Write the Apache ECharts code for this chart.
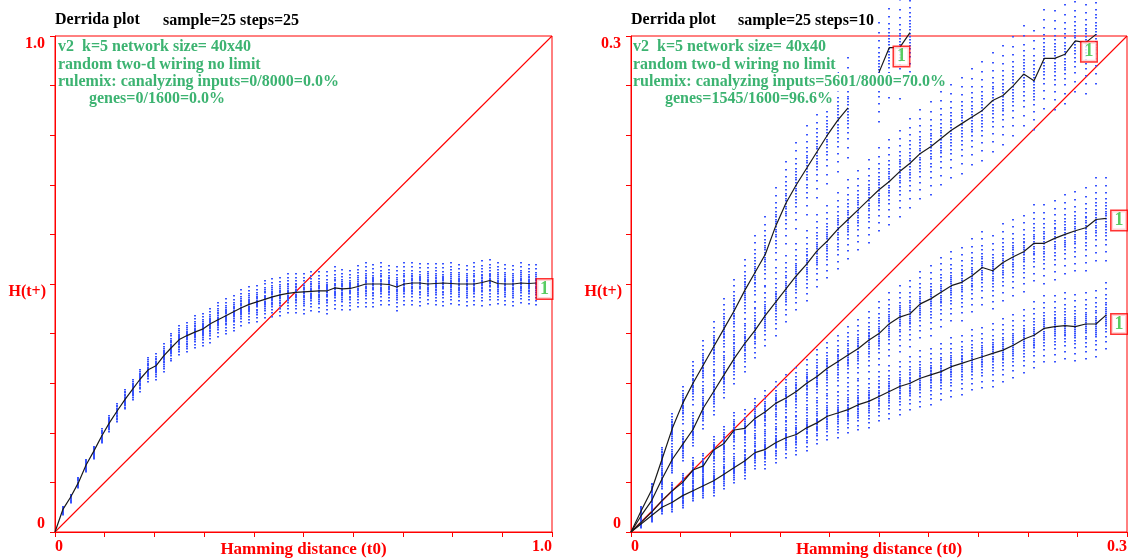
<!DOCTYPE html>
<html><head><meta charset="utf-8">
<script src="https://cdn.jsdelivr.net/npm/echarts@6/dist/echarts.min.js"></script>
<style>html,body{margin:0;padding:0;background:#fff}#c{width:1128px;height:559px}</style>
</head><body><div id="c"></div>
<script>
// ---------- data ----------
const leftStep = 0.015625;   // hamming distance step, left plot
const rightStep = 0.00625;   // hamming distance step, right plot

const leftH = [0, 0.045, 0.070, 0.099, 0.135, 0.163, 0.193, 0.220, 0.244, 0.267,
  0.288, 0.309, 0.327, 0.335, 0.355, 0.372, 0.388, 0.396, 0.403, 0.409,
  0.420, 0.428, 0.436, 0.444, 0.452, 0.459, 0.464, 0.469, 0.474, 0.478,
  0.481, 0.483, 0.484, 0.485, 0.486, 0.486, 0.492, 0.490, 0.491, 0.495,
  0.500, 0.500, 0.500, 0.499, 0.494, 0.500, 0.502, 0.502, 0.500, 0.501,
  0.502, 0.501, 0.500, 0.500, 0.500, 0.503, 0.507, 0.501, 0.500, 0.500,
  0.502, 0.501, 0.502];
const leftSpread = [0, 0.008, 0.008, 0.010, 0.012, 0.012, 0.014, 0.016, 0.018, 0.020,
  0.020, 0.022, 0.024, 0.026, 0.028, 0.028, 0.030, 0.030, 0.032, 0.032,
  0.034, 0.034, 0.035, 0.035, 0.036, 0.036, 0.036, 0.038, 0.038, 0.038,
  0.040, 0.040, 0.040, 0.040, 0.040, 0.042, 0.042, 0.040, 0.040, 0.042,
  0.045, 0.042, 0.042, 0.040, 0.045, 0.042, 0.042, 0.042, 0.040, 0.042,
  0.042, 0.042, 0.040, 0.040, 0.042, 0.045, 0.045, 0.042, 0.040, 0.040,
  0.040, 0.040, 0.040];

const rightA = [0, 0.013, 0.0254, 0.044, 0.0627, 0.0778, 0.090, 0.101, 0.112, 0.123,
  0.134, 0.146, 0.157, 0.168, 0.185, 0.199, 0.210, 0.220, 0.230, 0.240,
  0.249, 0.2565, '-', '-', 0.278, 0.293, 0.293, 0.302];
const rightASpread = [0, 0.003, 0.005, 0.007, 0.009, 0.011, 0.013, 0.015, 0.016, 0.018,
  0.019, 0.020, 0.022, 0.023, 0.024, 0.025, 0.026, 0.027, 0.028, 0.029,
  0.030, 0.030, 0, 0, 0.030, 0.030, 0.030, 0.030];

const rightB = [0, 0.010, 0.019, 0.032, 0.044, 0.053, 0.062, 0.075, 0.085, 0.095,
  0.105, 0.114, 0.122, 0.131, 0.139, 0.147, 0.155, 0.162, 0.170, 0.176,
  0.183, 0.189, 0.195, 0.201, 0.207, 0.212, 0.218, 0.223, 0.229, 0.233,
  0.238, 0.243, 0.247, 0.251, 0.255, 0.261, 0.264, 0.270, 0.277, 0.273,
  0.2865, 0.2865, 0.289, 0.297, 0.296, 0.301];
const rightBSpread = [0, 0.003, 0.004, 0.006, 0.008, 0.009, 0.010, 0.012, 0.013, 0.014,
  0.015, 0.016, 0.017, 0.018, 0.019, 0.020, 0.020, 0.021, 0.022, 0.022,
  0.023, 0.024, 0.024, 0.025, 0.025, 0.026, 0.026, 0.027, 0.027, 0.028,
  0.028, 0.028, 0.029, 0.029, 0.030, 0.030, 0.030, 0.030, 0.030, 0.030,
  0.030, 0.030, 0.030, 0.030, 0.030, 0.030];

const rightC = [0, 0.006, 0.012, 0.019, 0.025, 0.030, 0.0375, 0.040, 0.0496, 0.0536,
  0.0617, 0.0627, 0.0687, 0.0727, 0.0778, 0.081, 0.085, 0.090, 0.094, 0.099,
  0.103, 0.107, 0.111, 0.116, 0.120, 0.126, 0.130, 0.132, 0.138, 0.141,
  0.145, 0.149, 0.151, 0.155, 0.160, 0.158, 0.163, 0.1665, 0.1695, 0.1746,
  0.1746, 0.1776, 0.180, 0.1822, 0.184, 0.189, 0.1897];
const rightCSpread = [0, 0.002, 0.003, 0.004, 0.005, 0.006, 0.007, 0.008, 0.009, 0.010,
  0.011, 0.012, 0.012, 0.013, 0.014, 0.014, 0.015, 0.015, 0.016, 0.016,
  0.017, 0.017, 0.018, 0.018, 0.019, 0.019, 0.020, 0.020, 0.020, 0.021,
  0.021, 0.021, 0.022, 0.022, 0.022, 0.022, 0.023, 0.023, 0.023, 0.023,
  0.024, 0.024, 0.024, 0.024, 0.025, 0.025, 0.025];

const rightD = [0, 0.005, 0.010, 0.015, 0.018, 0.022, 0.025, 0.028, 0.031, 0.035,
  0.039, 0.043, 0.048, 0.050, 0.054, 0.057, 0.059, 0.063, 0.066, 0.070,
  0.072, 0.074, 0.077, 0.079, 0.082, 0.085, 0.088, 0.090, 0.093, 0.095,
  0.097, 0.100, 0.102, 0.104, 0.106, 0.108, 0.110, 0.113, 0.1166, 0.119,
  0.1232, 0.1242, 0.1248, 0.1242, 0.1258, 0.1258, 0.1313];
const rightDSpread = [0, 0.002, 0.003, 0.004, 0.005, 0.006, 0.006, 0.007, 0.008, 0.009,
  0.009, 0.010, 0.010, 0.011, 0.011, 0.012, 0.012, 0.013, 0.013, 0.014,
  0.014, 0.014, 0.015, 0.015, 0.015, 0.016, 0.016, 0.016, 0.017, 0.017,
  0.017, 0.018, 0.018, 0.018, 0.018, 0.019, 0.019, 0.019, 0.019, 0.020,
  0.020, 0.020, 0.020, 0.020, 0.020, 0.020, 0.020];

const leftDiagonal = [[0, 0], [1, 1]];
const rightDiagonal = [[0, 0], [0.3, 0.3]];
const leftEndLabels = [[0.985, 0.490]];
const rightEndLabels = [[0.1636, 0.2876], [0.277, 0.2905], [0.2952, 0.1884], [0.2952, 0.1258]];

const leftTickLabels = { min: '0', max: '1.0' };
const rightTickLabels = { min: '0', max: '0.3' };
const axisNameX = 'Hamming distance (t0)';
const axisNameY = 'H(t+)';
const leftTitle = ['Derrida plot', 'sample=25 steps=25'];
const rightTitle = ['Derrida plot', 'sample=25 steps=10'];
const leftInfo = ['v2  k=5 network size= 40x40', 'random two-d wiring no limit',
  'rulemix: canalyzing inputs=0/8000=0.0%', 'genes=0/1600=0.0%'];
const rightInfo = ['v2  k=5 network size= 40x40', 'random two-d wiring no limit',
  'rulemix: canalyzing inputs=5601/8000=70.0%', 'genes=1545/1600=96.6%'];

// ---------- chart ----------
const RED = '#ff0000';
const SERIF = '"Liberation Serif", "DejaVu Serif", serif';
const chart = echarts.init(document.getElementById('c'), null, { renderer: 'canvas' });

// relative positions of the sample dots inside one column (drawing pattern only)
const dotPattern = [-1, -0.8, -0.63, -0.5, -0.4, -0.32, -0.25, -0.19, -0.13, -0.07, 0,
  0.07, 0.13, 0.19, 0.25, 0.32, 0.4, 0.5, 0.63, 0.8, 1];

function pts(ys, step) { return ys.map((y, i) => [i * step, y]); }
function dots(ys, sp, step) {
  const out = [];
  ys.forEach((y, i) => { if (y !== '-' && sp[i] > 0) out.push([i * step, y, sp[i], i]); });
  return out;
}
function dotsRender(params, api) {
  const x = api.value(0), y = api.value(1), s = api.value(2), idx = api.value(3);
  const c = api.coord([x, y]);
  const top = api.coord([x, y + s]);
  const h = c[1] - top[1];
  const px = Math.round(c[0]) - 1;
  const shift = (idx % 3) - 1;
  const children = dotPattern.map(t => ({
    type: 'rect', shape: { x: px, y: Math.round(c[1] - t * h) + (Math.abs(t) > 0.3 ? shift : 0), width: 2, height: 1.6 },
    style: { fill: '#3a55ff' }
  }));
  return { type: 'group', children: children };
}
function fmt(labels, max) {
  return v => (Math.abs(v) < 1e-9 ? labels.min : (Math.abs(v - max) < 1e-9 ? labels.max : ''));
}
const labelFont = { color: RED, fontFamily: SERIF, fontWeight: 'bold', fontSize: 16 };

function xAx(gi, max, interval, labels) {
  return { gridIndex: gi, type: 'value', min: 0, max: max, interval: interval,
    axisLine: { show: true, lineStyle: { color: RED, width: 1 } },
    axisTick: { show: true, length: 5, lineStyle: { color: RED } },
    splitLine: { show: false },
    axisLabel: Object.assign({ formatter: fmt(labels, max), margin: 7,
      alignMinLabel: 'left', alignMaxLabel: 'right', showMinLabel: true, showMaxLabel: true }, labelFont),
    name: axisNameX, nameLocation: 'middle', nameGap: 9, nameMoveOverlap: false,
    nameTextStyle: Object.assign({}, labelFont, { fontSize: 17, verticalAlign: 'top' }) };
}
function yAx(gi, max, interval, labels) {
  return { gridIndex: gi, type: 'value', min: 0, max: max, interval: interval,
    axisLine: { show: true, lineStyle: { color: RED, width: 1 } },
    axisTick: { show: true, length: 5, lineStyle: { color: RED } },
    splitLine: { show: false },
    axisLabel: Object.assign({ formatter: fmt(labels, max), margin: 10,
      verticalAlignMinLabel: 'bottom', verticalAlignMaxLabel: 'top', showMinLabel: true, showMaxLabel: true }, labelFont),
    name: axisNameY, nameLocation: 'middle', nameGap: 9, nameRotate: 0, nameMoveOverlap: false,
    nameTextStyle: Object.assign({ verticalAlign: 'top', align: 'right' }, labelFont) };
}
function curve(ys, step, xi, clip) {
  return { type: 'line', xAxisIndex: xi, yAxisIndex: xi, data: pts(ys, step), showSymbol: false,
    symbol: 'none', clip: clip, z: 4, color: '#1a1a1a', lineStyle: { color: '#1a1a1a', width: 1.2 },
    emphasis: { disabled: true }, animation: false };
}
function diag(data, xi) {
  return { type: 'line', xAxisIndex: xi, yAxisIndex: xi, data: data, symbol: 'none', showSymbol: false, z: 2,
    color: RED, itemStyle: { color: RED }, lineStyle: { color: RED, width: 1.1 },
    emphasis: { disabled: true }, animation: false };
}
function dotSeries(ys, sp, step, xi) {
  return { type: 'custom', xAxisIndex: xi, yAxisIndex: xi, data: dots(ys, sp, step),
    renderItem: dotsRender, z: 3, clip: false, animation: false, silent: true };
}
function endLabels(arr, xi) {
  return { type: 'scatter', xAxisIndex: xi, yAxisIndex: xi, data: arr, symbolSize: 1, z: 6,
    itemStyle: { color: 'rgba(0,0,0,0)' }, clip: false, animation: false, emphasis: { disabled: true },
    label: { show: true, position: 'inside', formatter: '1', color: '#2fbf3a',
      fontFamily: SERIF, fontWeight: 'bold', fontSize: 18, backgroundColor: '#fff',
      borderColor: RED, borderWidth: 1.5, padding: [1, 3, 0, 3] } };
}
function textEl(x, y, t, color, size, bg) {
  const st = { text: t, fill: color, font: 'bold ' + size + 'px ' + SERIF, textVerticalAlign: 'middle' };
  if (bg) { st.backgroundColor = '#fff'; st.padding = [1, 2, 1, 0]; }
  return { type: 'text', x: x, y: y, z: 20, style: st };
}
const GREEN = '#3cb371';
const graphics = [
  textEl(55, 20, leftTitle[0], '#000', 16), textEl(163, 21, leftTitle[1], '#000', 16),
  textEl(631, 20, rightTitle[0], '#000', 16), textEl(738, 21, rightTitle[1], '#000', 16),
  textEl(58, 47, leftInfo[0], GREEN, 16, true), textEl(58, 65, leftInfo[1], GREEN, 16, true),
  textEl(58, 82, leftInfo[2], GREEN, 16, true), textEl(89, 99, leftInfo[3], GREEN, 16, true),
  textEl(633, 47, rightInfo[0], GREEN, 16, true), textEl(633, 65, rightInfo[1], GREEN, 16, true),
  textEl(633, 82, rightInfo[2], GREEN, 16, true), textEl(665, 99, rightInfo[3], GREEN, 16, true)
];

chart.setOption({
  animation: false,
  backgroundColor: '#fff',
  grid: [
    { left: 55, top: 36, width: 497, height: 496, show: true, borderColor: RED, borderWidth: 1,
      containLabel: false, outerBoundsMode: 'none' },
    { left: 631, top: 36, width: 496, height: 496, show: true, borderColor: RED, borderWidth: 1,
      containLabel: false, outerBoundsMode: 'none' }
  ],
  xAxis: [xAx(0, 1, 0.1, leftTickLabels), xAx(1, 0.3, 0.03, rightTickLabels)],
  yAxis: [yAx(0, 1, 0.1, leftTickLabels), yAx(1, 0.3, 0.03, rightTickLabels)],
  graphic: graphics,
  series: [
    diag(leftDiagonal, 0),
    diag(rightDiagonal, 1),
    dotSeries(leftH, leftSpread, leftStep, 0),
    dotSeries(rightA, rightASpread, rightStep, 1),
    dotSeries(rightB, rightBSpread, rightStep, 1),
    dotSeries(rightC, rightCSpread, rightStep, 1),
    dotSeries(rightD, rightDSpread, rightStep, 1),
    curve(leftH, leftStep, 0, true),
    curve(rightA, rightStep, 1, false),
    curve(rightB, rightStep, 1, false),
    curve(rightC, rightStep, 1, false),
    curve(rightD, rightStep, 1, false),
    endLabels(leftEndLabels, 0),
    endLabels(rightEndLabels, 1)
  ]
});
</script>
</body></html>
